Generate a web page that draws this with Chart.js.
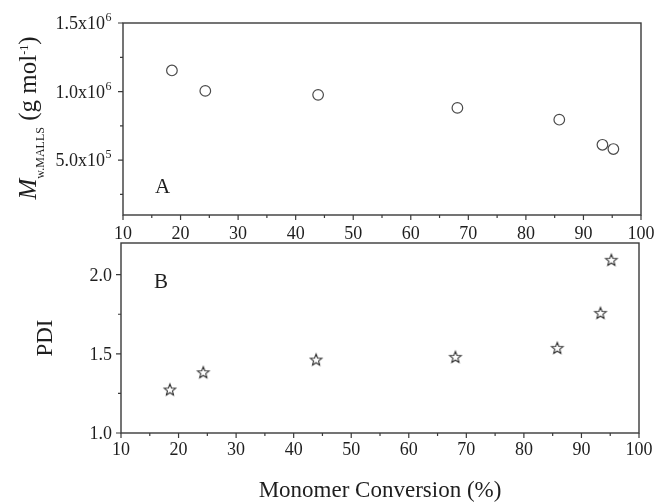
<!DOCTYPE html>
<html><head><meta charset="utf-8">
<script src="https://cdn.jsdelivr.net/npm/chart.js@4.4.0/dist/chart.umd.min.js"></script>
<style>
html,body{margin:0;padding:0;background:#fff;}
#wrap{position:relative;width:656px;height:503px;overflow:hidden;background:#fff;}
canvas{position:absolute;left:0;}
#c1{top:0;}
#c2{top:238px;}
</style></head><body>
<div id="wrap"><canvas id="c1" width="656" height="245"></canvas><canvas id="c2" width="656" height="265"></canvas></div>
<script>
// ---- data ----
const conversion = [18.5, 24.3, 43.9, 68.1, 85.8, 93.3, 95.2];
const mwMalls = [1.154e6, 1.005e6, 0.976e6, 0.881e6, 0.795e6, 0.612e6, 0.581e6];
const pdi = [1.275, 1.384, 1.464, 1.481, 1.538, 1.759, 2.094];
const xTicks = [10, 20, 30, 40, 50, 60, 70, 80, 90, 100];
const xMinorTicks = [15, 25, 35, 45, 55, 65, 75, 85, 95];
const mwTicks = [5e5, 1e6, 1.5e6];
const mwTickMantissa = ['5.0x10', '1.0x10', '1.5x10'];
const mwTickExponent = ['5', '6', '6'];
const mwMinorTicks = [2.5e5, 7.5e5, 1.25e6];
const pdiTicks = [1.0, 1.5, 2.0];
const pdiTickLabels = ['1.0', '1.5', '2.0'];
const pdiMinorTicks = [1.25, 1.75];

const SERIF = '"Liberation Serif", "Times New Roman", "DejaVu Serif", serif';
const AXIS = '#3a3a3a';
const TEXT = '#1e1e1e';

function starImage() {
  const s = 16, c = document.createElement('canvas');
  c.width = s; c.height = s;
  const g = c.getContext('2d');
  const R = 6.1, r = 2.6, cx = s / 2, cy = s / 2 + 0.6;
  g.beginPath();
  for (let i = 0; i < 10; i++) {
    const a = -Math.PI / 2 + i * Math.PI / 5;
    const rad = i % 2 ? r : R;
    g.lineTo(cx + rad * Math.cos(a), cy + rad * Math.sin(a));
  }
  g.closePath();
  g.fillStyle = '#fff'; g.fill();
  g.strokeStyle = '#2e2e2e'; g.lineWidth = 1.05; g.stroke();
  return c;
}

function framePlugin(yMajor, yMinor, extra) {
  return {
    id: 'frame',
    afterDraw(chart) {
      const ctx = chart.ctx, a = chart.chartArea;
      const xs = chart.scales.x, ys = chart.scales.y;
      ctx.save();
      ctx.strokeStyle = AXIS; ctx.lineWidth = 1.4;
      ctx.strokeRect(a.left, a.top, a.right - a.left, a.bottom - a.top);
      ctx.lineWidth = 1.2;
      ctx.beginPath();
      xTicks.forEach(v => { const p = xs.getPixelForValue(v); ctx.moveTo(p, a.bottom); ctx.lineTo(p, a.bottom + 5); });
      xMinorTicks.forEach(v => { const p = xs.getPixelForValue(v); ctx.moveTo(p, a.bottom); ctx.lineTo(p, a.bottom + 3); });
      yMajor.forEach(v => { const p = ys.getPixelForValue(v); ctx.moveTo(a.left, p); ctx.lineTo(a.left - 5, p); });
      yMinor.forEach(v => { const p = ys.getPixelForValue(v); ctx.moveTo(a.left, p); ctx.lineTo(a.left - 3, p); });
      ctx.stroke();
      ctx.restore();
      extra(ctx, a, chart);
    }
  };
}

function baseOptions(yOpts, padding, yWidth, xHeight, xPad) {
  return {
    responsive: false, animation: false, devicePixelRatio: 1,
    layout: { padding, autoPadding: false },
    plugins: { legend: { display: false }, tooltip: { enabled: false } },
    scales: {
      x: {
        type: 'linear', min: 10, max: 100,
        afterBuildTicks: s => { s.ticks = xTicks.map(v => ({ value: v })); },
        afterFit: s => { s.height = xHeight; s.paddingLeft = 0; s.paddingRight = 0; },
        grid: { display: false, drawTicks: false },
        border: { display: false },
        ticks: { autoSkip: false, maxRotation: 0, padding: xPad, color: TEXT, font: { family: SERIF, size: 18 } }
      },
      y: Object.assign({
        type: 'linear',
        afterFit: s => { s.width = yWidth; s.paddingTop = 0; s.paddingBottom = 0; },
        grid: { display: false, drawTicks: false },
        border: { display: false },
        ticks: { display: false }
      }, yOpts)
    }
  };
}

// ---- top panel (A) ----
const opt1 = baseOptions({
  min: 1e5, max: 1.5e6,
  afterBuildTicks: s => { s.ticks = mwTicks.map(v => ({ value: v })); }
}, { top: 23, right: 15, left: 0, bottom: 0 }, 123, 30, 8);

new Chart(document.getElementById('c1'), {
  type: 'scatter',
  data: { datasets: [{
    data: conversion.map((x, i) => ({ x, y: mwMalls[i] })),
    pointStyle: 'circle', pointRadius: 5.3, pointBorderWidth: 1.2,
    pointBorderColor: '#4a4a4a', pointBackgroundColor: 'rgba(255,255,255,0)', clip: false
  }] },
  options: opt1,
  plugins: [framePlugin(mwTicks, mwMinorTicks, (ctx, a, chart) => {
    ctx.save();
    ctx.fillStyle = TEXT;
    // y tick labels with superscript exponents
    const ys = chart.scales.y;
    ctx.textBaseline = 'alphabetic'; ctx.textAlign = 'left';
    mwTicks.forEach((v, i) => {
      const p = ys.getPixelForValue(v);
      ctx.font = '12px ' + SERIF;
      const ew = ctx.measureText(mwTickExponent[i]).width;
      ctx.font = '18px ' + SERIF;
      const mw = ctx.measureText(mwTickMantissa[i]).width;
      const right = a.left - 12;
      const x0 = right - ew - mw;
      ctx.fillText(mwTickMantissa[i], x0, p + 6);
      ctx.font = '12px ' + SERIF;
      ctx.fillText(mwTickExponent[i], x0 + mw + 0.5, p - 2);
    });
    ctx.font = '21px ' + SERIF;
    ctx.fillText('A', 155, 193);
    // rotated y title: M_{w.MALLS} (g mol^{-1})
    const parts = [
      { t: 'M', f: 'italic 25px ' + SERIF, dy: 0 },
      { t: 'w.MALLS', f: '12px ' + SERIF, dy: 8 },
      { t: ' (g mol', f: '25px ' + SERIF, dy: 0 },
      { t: '-1', f: '12px ' + SERIF, dy: -8 },
      { t: ')', f: '25px ' + SERIF, dy: 0 }
    ];
    let total = 0;
    parts.forEach(p => { ctx.font = p.f; p.w = ctx.measureText(p.t).width; total += p.w; });
    ctx.translate(36, 118);
    ctx.rotate(-Math.PI / 2);
    let x = -total / 2;
    parts.forEach(p => { ctx.font = p.f; ctx.fillText(p.t, x, p.dy); x += p.w; });
    ctx.restore();
  })]
});

// ---- bottom panel (B) ----
const opt2 = baseOptions({
  min: 1.0, max: 2.2,
  afterBuildTicks: s => { s.ticks = pdiTicks.map(v => ({ value: v })); }
}, { top: 5, right: 17, left: 0, bottom: 0 }, 121, 70, 6);

new Chart(document.getElementById('c2'), {
  type: 'scatter',
  data: { datasets: [{
    data: conversion.map((x, i) => ({ x, y: pdi[i] })),
    pointStyle: starImage(), pointRadius: 8, clip: false
  }] },
  options: opt2,
  plugins: [framePlugin(pdiTicks, pdiMinorTicks, (ctx, a, chart) => {
    ctx.save();
    ctx.fillStyle = TEXT;
    const ys = chart.scales.y;
    ctx.font = '18px ' + SERIF;
    ctx.textAlign = 'right'; ctx.textBaseline = 'alphabetic';
    pdiTicks.forEach((v, i) => {
      ctx.fillText(pdiTickLabels[i], a.left - 9, ys.getPixelForValue(v) + 6);
    });
    ctx.font = '21px ' + SERIF;
    ctx.textAlign = 'left';
    ctx.fillText('B', 154, 50);
    ctx.font = '23px ' + SERIF;
    ctx.textAlign = 'center';
    ctx.fillText('Monomer Conversion (%)', (a.left + a.right) / 2, 259);
    ctx.translate(52, (a.top + a.bottom) / 2);
    ctx.rotate(-Math.PI / 2);
    ctx.fillText('PDI', 0, 0);
    ctx.restore();
  })]
});
</script>
</body></html>
